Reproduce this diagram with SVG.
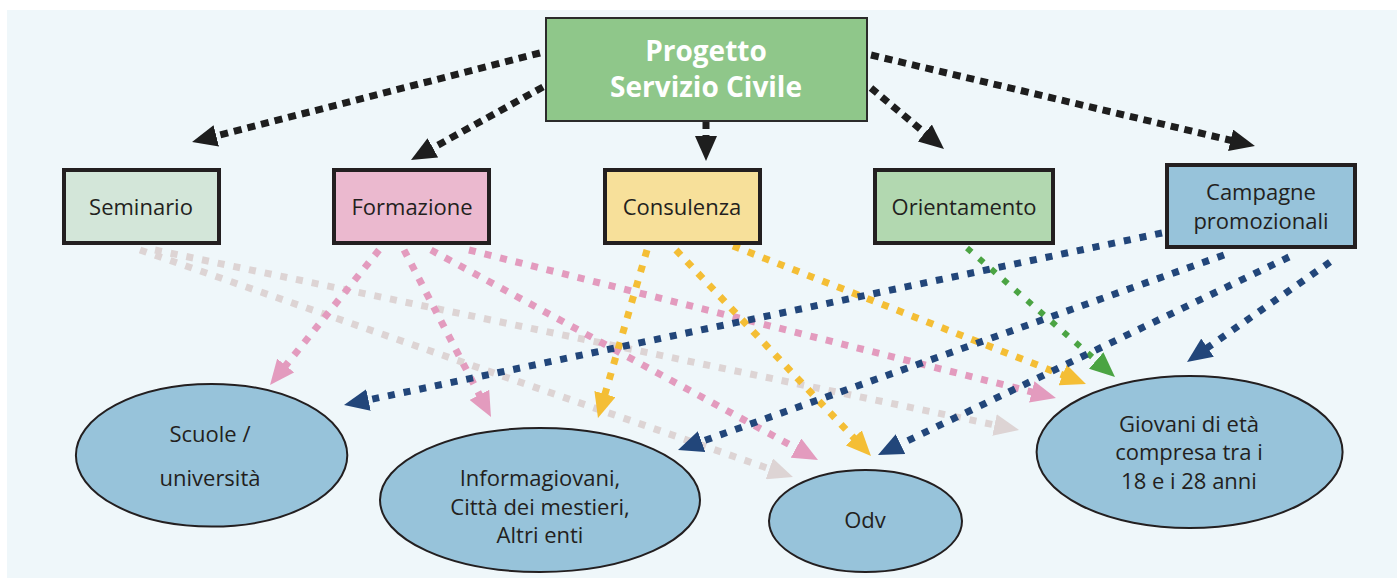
<svg xmlns="http://www.w3.org/2000/svg" width="1397" height="578" viewBox="0 0 1397 578">
<style>
.txt{font-family:"Open Sans","Liberation Sans",sans-serif;font-size:22px;fill:#231F20;text-anchor:middle}
.title{font-family:"Open Sans","Liberation Sans",sans-serif;font-size:28px;font-weight:bold;fill:#FFFFFF;text-anchor:middle}
.box{stroke:#231F20;stroke-width:4}
.ell{fill:#97C3DA;stroke:#231F20;stroke-width:2}
.blk{stroke:#1E1E1E;stroke-width:7;stroke-dasharray:8 6;fill:none;marker-end:url(#hk)}
.gry{stroke:#DDD4D4;stroke-width:7;stroke-dasharray:7 9;fill:none;marker-end:url(#hg)}
.pnk{stroke:#E39BBE;stroke-width:7;stroke-dasharray:7 9;fill:none;marker-end:url(#hp)}
.yel{stroke:#F4BE35;stroke-width:7;stroke-dasharray:7 9;fill:none;marker-end:url(#hy)}
.grn{stroke:#4BA443;stroke-width:6;stroke-dasharray:6 10;fill:none;marker-end:url(#hgr)}
.blu{stroke:#22467A;stroke-width:7;stroke-dasharray:7 9;fill:none;marker-end:url(#hb)}
</style>
<defs>
<marker id="hk" markerUnits="userSpaceOnUse" orient="auto" markerWidth="25" markerHeight="22" refX="1" refY="11"><path d="M0,0 L25,11 L0,22 z" fill="#1E1E1E"/></marker>
<marker id="hg" markerUnits="userSpaceOnUse" orient="auto" markerWidth="25" markerHeight="22" refX="1" refY="11"><path d="M0,0 L25,11 L0,22 z" fill="#DDD4D4"/></marker>
<marker id="hp" markerUnits="userSpaceOnUse" orient="auto" markerWidth="25" markerHeight="22" refX="1" refY="11"><path d="M0,0 L25,11 L0,22 z" fill="#E39BBE"/></marker>
<marker id="hy" markerUnits="userSpaceOnUse" orient="auto" markerWidth="25" markerHeight="22" refX="1" refY="11"><path d="M0,0 L25,11 L0,22 z" fill="#F4BE35"/></marker>
<marker id="hgr" markerUnits="userSpaceOnUse" orient="auto" markerWidth="25" markerHeight="22" refX="1" refY="11"><path d="M0,0 L25,11 L0,22 z" fill="#4BA443"/></marker>
<marker id="hb" markerUnits="userSpaceOnUse" orient="auto" markerWidth="25" markerHeight="22" refX="1" refY="11"><path d="M0,0 L25,11 L0,22 z" fill="#22467A"/></marker>
</defs>
<rect x="0" y="0" width="1397" height="578" fill="#FFFFFF"/>
<rect x="7" y="10" width="1390" height="568" fill="#EFF7FA"/>

<g id="connectors">
<line class="blk" x1="540" y1="53" x2="215.3" y2="136.1"/>
<line class="blk" x1="543" y1="87" x2="432" y2="148.4"/>
<line class="blk" x1="706" y1="121" x2="706" y2="137"/>
<line class="blk" x1="871" y1="88" x2="925.6" y2="133.6"/>
<line class="blk" x1="871" y1="55" x2="1231.6" y2="140.5"/>

<line class="gry" x1="140" y1="250" x2="770.3" y2="469.1"/>
<line class="gry" x1="155" y1="250" x2="995.5" y2="425.1"/>

<line class="pnk" x1="379" y1="250" x2="285.1" y2="366.3"/>
<line class="pnk" x1="404" y1="250" x2="479.9" y2="395.7"/>
<line class="pnk" x1="431" y1="250" x2="796.9" y2="448.6"/>
<line class="pnk" x1="469" y1="250" x2="1032.7" y2="392.1"/>

<line class="yel" x1="647" y1="250" x2="604.7" y2="395"/>
<line class="yel" x1="676" y1="250" x2="854.5" y2="438.6"/>
<line class="yel" x1="733" y1="246" x2="1063.6" y2="375.3"/>

<line class="grn" x1="967" y1="248" x2="1096.9" y2="361.2"/>

<line class="blu" x1="1162" y1="233" x2="367.5" y2="400.1"/>
<line class="blu" x1="1224" y1="255" x2="700.6" y2="441.9"/>
<line class="blu" x1="1289" y1="257" x2="899.6" y2="444.6"/>
<line class="blu" x1="1330" y1="262" x2="1206.7" y2="348.2"/>
</g>

<g id="progetto">
<rect x="546" y="18" width="321" height="103" fill="#8FC78A" stroke="#2B2B2B" stroke-width="2"/>
<text class="title" x="706" y="61">Progetto</text>
<text class="title" x="706" y="97">Servizio Civile</text>
</g>
<g id="seminario">
<rect class="box" x="64" y="170" width="155" height="73" fill="#D3E6D9"/>
<text class="txt" x="141" y="215">Seminario</text>
</g>
<g id="formazione">
<rect class="box" x="334" y="170" width="155" height="73" fill="#EBB9CF"/>
<text class="txt" x="412" y="215">Formazione</text>
</g>
<g id="consulenza">
<rect class="box" x="605" y="170" width="155" height="73" fill="#F7E09A"/>
<text class="txt" x="682" y="215">Consulenza</text>
</g>
<g id="orientamento">
<rect class="box" x="875" y="170" width="178" height="73" fill="#B2D8B0"/>
<text class="txt" x="964" y="215">Orientamento</text>
</g>
<g id="campagne">
<rect class="box" x="1167" y="165" width="188" height="82" fill="#97C3DA"/>
<text class="txt" x="1261" y="200">Campagne</text>
<text class="txt" x="1261" y="229">promozionali</text>
</g>
<g id="scuole">
<ellipse class="ell" cx="211.6" cy="455.3" rx="135.7" ry="71.3"/>
<text class="txt" x="210" y="441.7">Scuole /</text>
<text class="txt" x="210" y="486">università</text>
</g>
<g id="informagiovani">
<ellipse class="ell" cx="540" cy="500" rx="160" ry="72"/>
<text class="txt" x="540" y="486">Informagiovani,</text>
<text class="txt" x="540" y="515">Città dei mestieri,</text>
<text class="txt" x="540" y="543">Altri enti</text>
</g>
<g id="odv">
<ellipse class="ell" cx="865.5" cy="521" rx="96.5" ry="51"/>
<text class="txt" x="865" y="528">Odv</text>
</g>
<g id="giovani">
<ellipse class="ell" cx="1189.6" cy="452" rx="153" ry="76"/>
<text class="txt" x="1189" y="431.7">Giovani di età</text>
<text class="txt" x="1189" y="460">compresa tra i</text>
<text class="txt" x="1189" y="489">18 e i 28 anni</text>
</g>
</svg>
